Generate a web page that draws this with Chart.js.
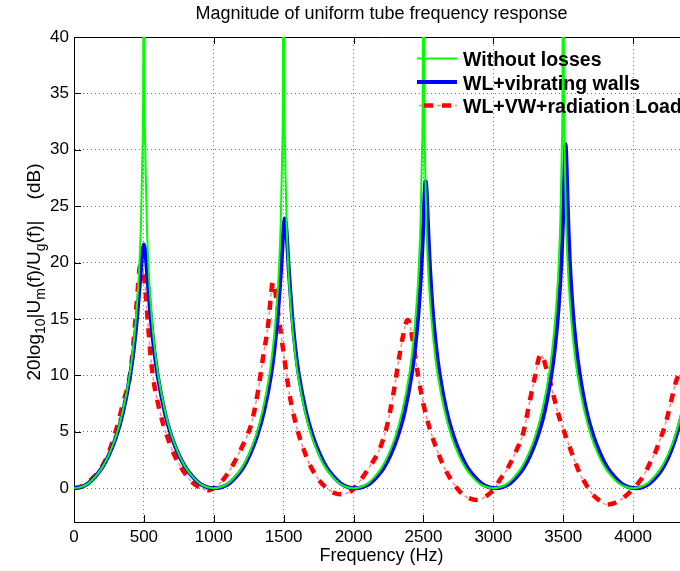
<!DOCTYPE html>
<html>
<head>
<meta charset="utf-8">
<title>Magnitude of uniform tube frequency response</title>
<script src="https://cdn.jsdelivr.net/npm/chart.js@4.4.0/dist/chart.umd.min.js"></script>
<style>
  html, body { margin: 0; padding: 0; background: #fff; overflow: hidden; }
  #wrap { width: 700px; height: 571px; }
</style>
</head>
<body>
<div id="wrap"><canvas id="grafik" width="700" height="571"></canvas></div>
<script>
// frekuensi (Hz) dan magnitudo (dB)
const freqGreen = [
  0, 50, 100, 150, 200, 250, 300, 350, 400, 420, 440, 460, 470, 480, 490, 495, 500, 505, 510, 520, 530, 540, 560, 580, 600, 650, 700, 750, 800, 850, 900, 950,
  1000, 1050, 1100, 1150, 1200, 1250, 1300, 1350, 1400, 1420, 1440, 1460, 1470, 1480, 1490, 1495, 1500, 1505, 1510, 1520, 1530, 1540, 1560, 1580, 1600, 1650, 1700, 1750, 1800, 1850, 1900, 1950,
  2000, 2050, 2100, 2150, 2200, 2250, 2300, 2350, 2400, 2420, 2440, 2460, 2470, 2480, 2490, 2495, 2500, 2505, 2510, 2520, 2530, 2540, 2560, 2580, 2600, 2650, 2700, 2750, 2800, 2850, 2900, 2950,
  3000, 3050, 3100, 3150, 3200, 3250, 3300, 3350, 3400, 3420, 3440, 3460, 3470, 3480, 3490, 3495, 3500, 3505, 3510, 3520, 3530, 3540, 3560, 3580, 3600, 3650, 3700, 3750, 3800, 3850, 3900, 3950,
  4000, 4050, 4100, 4150, 4200, 4250, 4300, 4350, 4400
];
const dbGreen = [
  0, 0.1, 0.4, 1.0, 1.8, 3.0, 4.6, 6.9, 10.2, 12.1, 14.6, 18.0, 20.5, 24.0, 30.1, 36.1, 80, 36.1, 30.1, 24.0, 20.5, 18.0, 14.6, 12.1, 10.2, 6.9, 4.6, 3.0, 1.8, 1.0, 0.4, 0.1,
  0, 0.1, 0.4, 1.0, 1.8, 3.0, 4.6, 6.9, 10.2, 12.1, 14.6, 18.0, 20.5, 24.0, 30.1, 36.1, 80, 36.1, 30.1, 24.0, 20.5, 18.0, 14.6, 12.1, 10.2, 6.9, 4.6, 3.0, 1.8, 1.0, 0.4, 0.1,
  0, 0.1, 0.4, 1.0, 1.8, 3.0, 4.6, 6.9, 10.2, 12.1, 14.6, 18.0, 20.5, 24.0, 30.1, 36.1, 80, 36.1, 30.1, 24.0, 20.5, 18.0, 14.6, 12.1, 10.2, 6.9, 4.6, 3.0, 1.8, 1.0, 0.4, 0.1,
  0, 0.1, 0.4, 1.0, 1.8, 3.0, 4.6, 6.9, 10.2, 12.1, 14.6, 18.0, 20.5, 24.0, 30.1, 36.1, 80, 36.1, 30.1, 24.0, 20.5, 18.0, 14.6, 12.1, 10.2, 6.9, 4.6, 3.0, 1.8, 1.0, 0.4, 0.1,
  0, 0.1, 0.4, 1.0, 1.8, 3.0, 4.6, 6.9, 10.2
];

const freqBlue = [
  0, 50, 100, 150, 200, 250, 300, 350, 400, 425, 450, 470, 480, 490, 500, 510, 520, 530, 550, 575, 600, 650, 700, 750, 800, 850, 900, 950, 1005,
  1059, 1109, 1159, 1209, 1259, 1309, 1359, 1409, 1434, 1459, 1479, 1489, 1499, 1509, 1519, 1529, 1539, 1559, 1584, 1609, 1659, 1709, 1759, 1809, 1859, 1909, 1959, 2010,
  2066, 2116, 2166, 2216, 2266, 2316, 2366, 2416, 2441, 2466, 2486, 2496, 2506, 2511, 2516, 2521, 2526, 2536, 2546, 2566, 2591, 2616, 2666, 2716, 2766, 2816, 2866, 2916, 2966, 3015,
  3067, 3117, 3167, 3217, 3267, 3317, 3367, 3417, 3442, 3467, 3487, 3497, 3507, 3512, 3517, 3522, 3527, 3537, 3547, 3567, 3592, 3617, 3667, 3717, 3767, 3817, 3867, 3917, 3967, 4020,
  4070, 4120, 4170, 4220, 4270, 4320, 4370, 4420
];
const dbBlue = [
  0, 0.1, 0.4, 1.0, 1.8, 2.95, 4.5, 6.7, 9.9, 12.1, 15.0, 18.0, 19.6, 21.0, 21.6, 21.0, 19.6, 18.0, 15.0, 12.1, 9.9, 6.7, 4.5, 2.95, 1.8, 1.0, 0.4, 0.1, 0,
  0.1, 0.4, 1.0, 1.8, 3.0, 4.6, 6.8, 10.0, 12.3, 15.5, 18.9, 21.0, 23.0, 23.9, 23.0, 21.0, 18.9, 15.5, 12.3, 10.0, 6.8, 4.6, 3.0, 1.8, 1.0, 0.4, 0.1, 0,
  0.1, 0.4, 1.0, 1.8, 3.0, 4.6, 6.8, 10.1, 12.5, 15.8, 19.7, 22.3, 25.4, 26.7, 27.2, 26.7, 25.4, 22.3, 19.7, 15.8, 12.5, 10.1, 6.8, 4.6, 3.0, 1.8, 1.0, 0.4, 0.1, 0,
  0.1, 0.4, 1.0, 1.8, 3.0, 4.6, 6.8, 10.2, 12.6, 16.0, 20.1, 23.2, 27.3, 29.4, 30.5, 29.4, 27.3, 23.2, 20.1, 16.0, 12.6, 10.2, 6.8, 4.6, 3.0, 1.8, 1.0, 0.4, 0.1, 0,
  0.1, 0.45, 1.05, 1.95, 3.25, 5.1, 7.6, 11.2
];

const freqRed = [
  0, 50, 100, 150, 195, 250, 280, 320, 350, 400, 425, 446, 460, 472, 485, 506, 529, 553, 575, 601, 640, 684, 720, 756, 800, 828, 880, 930, 960,
  1000, 1050, 1100, 1150, 1200, 1240, 1271, 1318, 1354, 1390, 1410, 1421, 1435, 1461, 1497, 1545, 1605, 1650, 1688, 1760, 1810, 1867, 1920, 1960,
  1998, 2050, 2094, 2165, 2200, 2237, 2284, 2332, 2368, 2385, 2400, 2427, 2463, 2499, 2547, 2606, 2650, 2690, 2740, 2785, 2840, 2890, 2950,
  3011, 3050, 3095, 3167, 3214, 3262, 3298, 3325, 3338, 3355, 3380, 3405, 3464, 3536, 3580, 3619, 3660, 3703, 3760, 3810, 3870, 3941, 3990,
  4037, 4080, 4120, 4160, 4192, 4225, 4251, 4280, 4311, 4340, 4370, 4420
];
const dbRed = [
  0, 0.15, 0.55, 1.1, 1.8, 3.2, 4.3, 6.0, 7.5, 10.0, 12.8, 16.0, 18.2, 19.7, 19.6, 18.2, 14.6, 11.1, 9.1, 7.5, 5.6, 4.0, 2.9, 2.05, 1.2, 0.75, 0.2, -0.1, -0.2,
  0.0, 0.5, 1.3, 2.35, 3.6, 4.7, 5.8, 8.7, 11.7, 14.6, 17.2, 18.3, 17.8, 15.5, 12.2, 8.1, 4.9, 3.2, 2.05, 0.6, 0.0, -0.45, -0.55, -0.4,
  -0.1, 0.7, 1.5, 2.9, 3.9, 5.4, 8.3, 12.0, 14.3, 14.9, 14.7, 12.8, 9.9, 7.5, 5.2, 3.1, 1.8, 0.9, 0.0, -0.6, -0.95, -1.05, -0.7,
  0.0, 0.8, 1.6, 3.4, 4.9, 7.8, 9.9, 11.5, 11.85, 11.6, 10.6, 9.5, 6.6, 4.0, 2.5, 1.3, 0.4, -0.45, -1.1, -1.45, -1.3, -0.75, -0.2,
  0.45, 1.2, 2.2, 3.2, 4.3, 5.4, 6.6, 8.1, 9.6, 10.2, 10.0, 8.8
];

const xTicks = [0, 500, 1000, 1500, 2000, 2500, 3000, 3500, 4000];
const yTicks = [0, 5, 10, 15, 20, 25, 30, 35, 40];

const seriesNames = ['Without losses', 'WL+vibrating walls', 'WL+VW+radiation Load'];
const chartTitle = 'Magnitude of uniform tube frequency response';
const xLabel = 'Frequency (Hz)';
// label sumbu y: [teks, subskrip?]
const yLabelParts = [['20log', false], ['10', true], ['|U', false], ['m', true], ['(f)/U', false], ['g', true], ['(f)|    (dB)', false]];

const FONT = '"Liberation Sans", Arial, Helvetica, sans-serif';
const RED_DASH = [9, 9];

function toPoints(xs, ys) {
  return xs.map((x, i) => ({ x: x, y: ys[i] }));
}

// bingkai, judul, label dan legenda ala MATLAB
const matlabDecor = {
  id: 'matlabDecor',
  beforeDatasetsDraw(chart) {
    const ctx = chart.ctx;
    const a = chart.chartArea;
    const xs = chart.scales.x, ys = chart.scales.y;
    ctx.save();
    ctx.strokeStyle = '#000';
    ctx.lineWidth = 1;
    ctx.beginPath();
    ctx.moveTo(a.left, a.top + 0.5);
    ctx.lineTo(a.right, a.top + 0.5);
    xs.ticks.forEach(t => {
      const px = Math.round(xs.getPixelForValue(t.value)) + 0.5;
      ctx.moveTo(px, a.bottom); ctx.lineTo(px, a.bottom - 7);
      ctx.moveTo(px, a.top); ctx.lineTo(px, a.top + 7);
    });
    ys.ticks.forEach(t => {
      const py = Math.round(ys.getPixelForValue(t.value)) + 0.5;
      ctx.moveTo(a.left, py); ctx.lineTo(a.left + 7, py);
    });
    ctx.stroke();
    ctx.restore();
  },
  afterDraw(chart) {
    const ctx = chart.ctx;
    const a = chart.chartArea;
    const cx = (a.left + a.right) / 2;
    ctx.save();
    ctx.fillStyle = '#000';
    ctx.textAlign = 'center';
    ctx.textBaseline = 'middle';
    ctx.font = '18px ' + FONT;
    ctx.fillText(chartTitle, cx, 14);
    ctx.fillText(xLabel, cx, 556);

    // label sumbu y dengan subskrip
    ctx.translate(40, 272);
    ctx.rotate(-Math.PI / 2);
    ctx.textAlign = 'left';
    ctx.textBaseline = 'alphabetic';
    let total = 0;
    yLabelParts.forEach(p => {
      ctx.font = (p[1] ? '14px ' : '19px ') + FONT;
      total += ctx.measureText(p[0]).width;
    });
    let x = -total / 2;
    yLabelParts.forEach(p => {
      ctx.font = (p[1] ? '14px ' : '19px ') + FONT;
      ctx.fillText(p[0], x, p[1] ? 5 : 0);
      x += ctx.measureText(p[0]).width;
    });
    ctx.restore();

    // legenda
    const ds = chart.data.datasets;
    const rows = [
      { y: 58.5, base: 66, ds: ds[0] },
      { y: 82, base: 89.5, ds: ds[1] },
      { y: 105.5, base: 113, ds: ds[2] }
    ];
    ctx.save();
    rows.forEach((r, i) => {
      ctx.strokeStyle = r.ds.borderColor;
      ctx.lineWidth = r.ds.borderWidth;
      ctx.setLineDash(i === 2 ? RED_DASH : []);
      ctx.lineDashOffset = i === 2 ? -7 : 0;
      ctx.beginPath();
      ctx.moveTo(417, r.y); ctx.lineTo(457, r.y);
      ctx.stroke();
      if (i === 2) {
        const d = ds[3];
        ctx.strokeStyle = d.borderColor;
        ctx.lineWidth = d.borderWidth;
        ctx.setLineDash(d.borderDash);
        ctx.lineDashOffset = d.borderDashOffset - 7;
        ctx.beginPath();
        ctx.moveTo(417, r.y); ctx.lineTo(457, r.y);
        ctx.stroke();
      }
      ctx.setLineDash([]);
      ctx.fillStyle = '#000';
      ctx.font = 'bold 19.5px ' + FONT;
      ctx.textAlign = 'left';
      ctx.textBaseline = 'alphabetic';
      ctx.fillText(seriesNames[i], 463, r.base);
    });
    ctx.restore();
  }
};

const ctx = document.getElementById('grafik').getContext('2d');
new Chart(ctx, {
  type: 'line',
  data: {
    datasets: [
      {
        label: seriesNames[0],
        data: toPoints(freqGreen, dbGreen),
        borderColor: '#00ff00',
        borderWidth: 2,
        pointRadius: 0,
        cubicInterpolationMode: 'monotone',
        clip: 0,
        fill: false
      },
      {
        label: seriesNames[1],
        data: toPoints(freqBlue, dbBlue),
        borderColor: '#0000ff',
        borderWidth: 4,
        pointRadius: 0,
        cubicInterpolationMode: 'monotone',
        clip: 0,
        fill: false
      },
      {
        label: seriesNames[2],
        data: toPoints(freqRed, dbRed),
        borderColor: '#ff0000',
        borderWidth: 4.5,
        borderDash: RED_DASH,
        borderCapStyle: 'butt',
        pointRadius: 0,
        cubicInterpolationMode: 'monotone',
        clip: 0,
        fill: false
      },
      {
        // titik tipis pada garis putus-putus
        label: seriesNames[2] + ' (dot)',
        data: toPoints(freqRed, dbRed),
        borderColor: 'rgba(255, 40, 40, 0.55)',
        borderWidth: 1.5,
        borderDash: [4, 14],
        borderDashOffset: 5,
        borderCapStyle: 'butt',
        pointRadius: 0,
        cubicInterpolationMode: 'monotone',
        clip: 0,
        fill: false
      }
    ]
  },
  options: {
    responsive: false,
    animation: false,
    layout: { padding: { left: 0, top: 37, right: 11, bottom: 0 } },
    plugins: {
      legend: { display: false },
      title: { display: false },
      tooltip: { enabled: false }
    },
    scales: {
      x: {
        type: 'linear',
        min: 0,
        max: 4400,
        afterFit: s => { s.height = 49; },
        afterBuildTicks: s => { s.ticks = xTicks.map(v => ({ value: v })); },
        ticks: {
          autoSkip: false,
          maxRotation: 0,
          padding: 5,
          color: '#000',
          font: { family: FONT, size: 17 },
          callback: v => String(v)
        },
        grid: { color: 'rgba(0,0,0,0.55)', lineWidth: 1, drawTicks: false },
        border: { display: true, color: '#000', width: 1, dash: [1, 3] }
      },
      y: {
        type: 'linear',
        min: -3,
        max: 40,
        afterFit: s => { s.width = 74; },
        afterBuildTicks: s => { s.ticks = yTicks.map(v => ({ value: v })); },
        ticks: {
          padding: 5,
          color: '#000',
          font: { family: FONT, size: 17 },
          callback: v => String(v)
        },
        grid: { color: 'rgba(0,0,0,0.55)', lineWidth: 1, drawTicks: false },
        border: { display: true, color: '#000', width: 1, dash: [1, 3] }
      }
    }
  },
  plugins: [matlabDecor]
});
</script>
</body>
</html>
